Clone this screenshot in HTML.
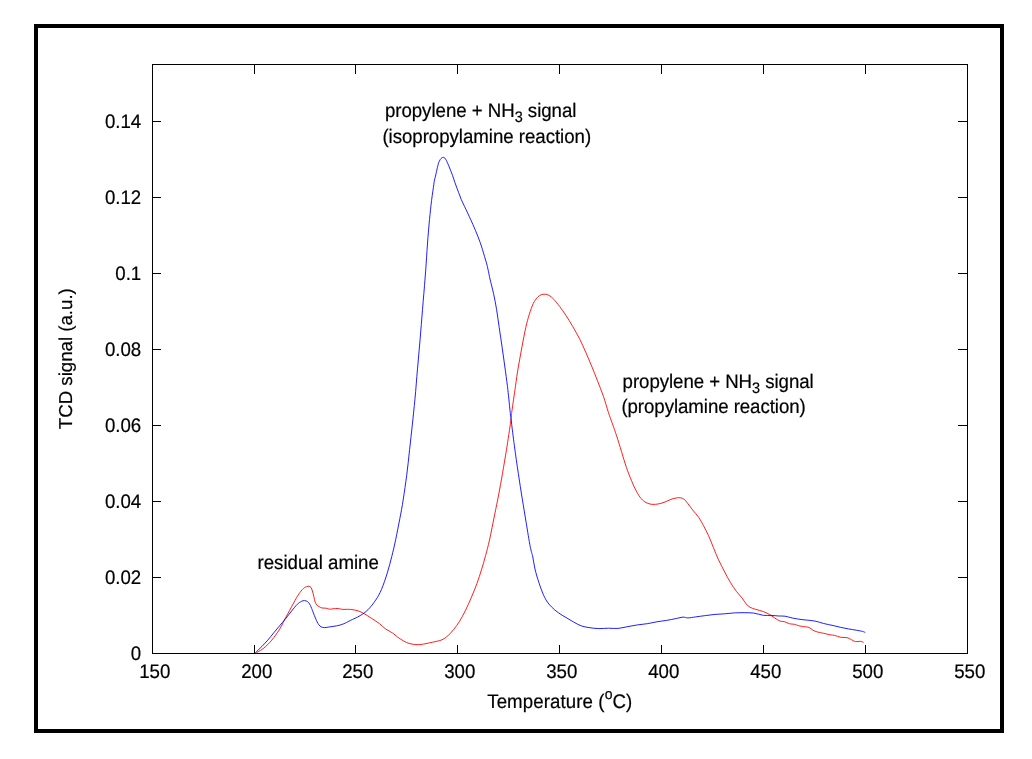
<!DOCTYPE html>
<html lang="en">
<head>
<meta charset="utf-8">
<title>TCD signal vs Temperature</title>
<style>
html,body{margin:0;padding:0;background:#fff;}
body{width:1032px;height:759px;overflow:hidden;position:relative;}
svg{position:absolute;left:0;top:0;display:block;}
text{font-family:"Liberation Sans",sans-serif;font-size:18.67px;fill:#000;stroke:#000;stroke-width:0.2px;text-rendering:geometricPrecision;}
.s{font-size:14.5px;}.p{font-size:14px;}
</style>
</head>
<body>
<svg width="1032" height="759" viewBox="0 0 1032 759">
<rect x="0" y="0" width="1032" height="759" fill="#fff"/>
<rect x="36" y="26" width="966" height="705" fill="none" stroke="#000" stroke-width="4"/>
<rect x="152.5" y="64.5" width="815.0" height="589.0" fill="none" stroke="#000" stroke-width="1" shape-rendering="crispEdges"/>
<g fill="#000" shape-rendering="crispEdges"><rect x="254" y="645" width="1" height="8"/><rect x="254" y="65" width="1" height="9"/><rect x="355" y="645" width="1" height="8"/><rect x="355" y="65" width="1" height="9"/><rect x="457" y="645" width="1" height="8"/><rect x="457" y="65" width="1" height="9"/><rect x="559" y="645" width="1" height="8"/><rect x="559" y="65" width="1" height="9"/><rect x="661" y="645" width="1" height="8"/><rect x="661" y="65" width="1" height="9"/><rect x="763" y="645" width="1" height="8"/><rect x="763" y="65" width="1" height="9"/><rect x="865" y="645" width="1" height="8"/><rect x="865" y="65" width="1" height="9"/><rect x="153" y="577" width="8" height="1"/><rect x="958" y="577" width="9" height="1"/><rect x="153" y="501" width="8" height="1"/><rect x="958" y="501" width="9" height="1"/><rect x="153" y="425" width="8" height="1"/><rect x="958" y="425" width="9" height="1"/><rect x="153" y="349" width="8" height="1"/><rect x="958" y="349" width="9" height="1"/><rect x="153" y="273" width="8" height="1"/><rect x="958" y="273" width="9" height="1"/><rect x="153" y="197" width="8" height="1"/><rect x="958" y="197" width="9" height="1"/><rect x="153" y="121" width="8" height="1"/><rect x="958" y="121" width="9" height="1"/></g>
<path d="M256.2 653.0C257.1 652.4 260.3 650.6 261.9 649.5C263.5 648.4 264.5 647.6 265.8 646.4C267.1 645.2 268.5 643.8 269.8 642.4C271.1 641.0 272.4 639.4 273.7 637.7C275.0 636.0 276.4 634.2 277.7 632.2C279.0 630.2 280.4 628.0 281.6 625.8C282.8 623.6 283.8 621.0 284.9 619.0C285.9 617.0 286.8 615.6 287.9 613.6C289.0 611.6 290.3 609.0 291.5 606.8C292.7 604.6 293.8 602.6 295.0 600.5C296.2 598.4 297.3 596.2 298.7 594.2C300.1 592.2 302.1 589.7 303.5 588.4C304.9 587.1 306.0 587.0 306.9 586.6C307.8 586.2 308.3 586.1 309.0 586.2C309.7 586.4 310.4 586.7 311.0 587.5C311.6 588.3 311.9 589.5 312.4 591.0C312.9 592.5 313.4 594.6 313.8 596.4C314.2 598.2 314.6 600.5 315.1 601.9C315.6 603.3 316.1 604.2 316.8 605.0C317.5 605.8 318.3 606.2 319.2 606.7C320.1 607.2 320.9 607.8 322.0 608.0C323.1 608.2 324.9 608.0 326.1 608.2C327.4 608.4 328.4 609.1 329.5 609.2C330.6 609.3 331.5 608.9 332.9 608.8C334.3 608.7 336.7 608.4 338.1 608.5C339.5 608.6 340.1 609.1 341.2 609.2C342.3 609.4 343.4 609.4 345.0 609.4C346.6 609.4 348.3 609.1 350.5 609.4C352.7 609.6 355.9 610.2 358.2 610.9C360.4 611.6 361.7 612.3 364.0 613.6C366.3 614.9 369.2 616.8 371.8 618.5C374.4 620.2 377.2 621.9 379.5 623.7C381.8 625.5 383.6 627.6 385.8 629.1C388.0 630.6 390.7 631.7 392.6 633.0C394.5 634.3 395.6 635.6 397.4 636.9C399.2 638.2 401.2 639.7 403.3 640.8C405.4 641.9 407.4 643.1 410.0 643.7C412.6 644.4 415.7 644.8 418.8 644.7C421.9 644.6 425.5 643.7 428.4 643.1C431.3 642.5 433.9 642.0 436.2 641.4C438.5 640.8 440.1 640.7 442.0 639.8C443.9 638.9 445.9 637.6 447.8 635.9C449.7 634.2 451.7 631.9 453.6 629.5C455.6 627.1 457.6 624.5 459.5 621.4C461.4 618.3 463.4 614.6 465.3 610.7C467.2 606.8 469.2 602.6 471.1 598.1C473.0 593.6 475.1 588.4 476.9 583.6C478.7 578.8 480.2 573.8 481.7 569.1C483.1 564.4 484.3 560.4 485.6 555.5C486.9 550.6 488.0 546.8 489.5 540.0C491.0 533.2 493.1 522.4 494.6 514.9C496.1 507.4 497.3 502.0 498.6 495.1C499.9 488.2 501.2 481.0 502.5 473.4C503.8 465.8 505.1 458.3 506.5 449.6C507.9 440.9 509.9 427.5 510.8 421.0C511.7 414.5 511.2 416.1 512.0 410.4C512.8 404.7 514.4 393.9 515.4 386.7C516.4 379.5 517.2 373.6 518.3 367.0C519.4 360.4 520.6 353.8 521.9 347.2C523.1 340.6 524.6 332.8 525.8 327.4C527.0 322.0 528.0 318.6 529.2 314.6C530.4 310.7 531.9 306.5 533.2 303.7C534.5 300.9 535.8 299.3 537.1 297.8C538.4 296.3 539.8 295.4 541.1 294.8C542.4 294.2 543.7 294.1 545.0 294.2C546.3 294.3 547.5 294.5 549.0 295.4C550.5 296.3 552.1 297.5 553.9 299.4C555.7 301.3 557.8 304.1 559.8 306.7C561.8 309.3 563.6 311.9 565.8 315.2C567.9 318.5 570.4 322.4 572.7 326.4C575.0 330.4 577.6 335.0 579.8 339.3C582.0 343.6 583.7 347.7 585.7 352.1C587.7 356.6 589.6 361.2 591.6 366.0C593.6 370.8 595.5 375.7 597.5 380.8C599.5 385.9 601.7 391.3 603.5 396.6C605.3 401.9 606.9 407.8 608.4 412.4C609.9 417.0 611.1 420.1 612.5 424.0C613.9 427.9 615.1 431.2 616.6 435.8C618.1 440.4 619.9 446.3 621.5 451.6C623.1 456.9 624.8 462.6 626.4 467.4C628.0 472.2 629.8 476.4 631.4 480.3C633.0 484.2 634.6 488.0 636.3 491.1C637.9 494.2 639.6 496.8 641.3 498.7C642.9 500.6 644.4 501.7 646.2 502.6C648.0 503.6 650.0 504.2 652.1 504.4C654.2 504.6 657.0 504.2 659.1 503.8C661.2 503.4 663.0 502.7 665.0 502.0C667.0 501.3 668.9 500.1 670.9 499.4C672.9 498.7 675.1 498.1 676.8 497.9C678.4 497.6 679.5 497.6 680.8 497.9C682.0 498.1 683.1 498.5 684.3 499.4C685.4 500.3 686.3 501.6 687.7 503.4C689.1 505.1 690.8 507.6 692.6 509.9C694.4 512.2 696.8 514.6 698.6 517.2C700.4 519.8 701.9 522.6 703.5 525.7C705.1 528.8 706.9 532.0 708.5 535.6C710.1 539.2 711.8 543.5 713.4 547.5C715.0 551.5 716.4 555.2 718.3 559.3C720.2 563.4 722.7 568.1 724.7 572.0C726.7 575.9 728.5 579.4 730.5 582.6C732.5 585.8 734.4 588.8 736.4 591.4C738.4 594.0 740.6 596.0 742.2 598.1C743.8 600.2 744.9 602.5 746.2 604.0C747.5 605.5 748.6 606.4 750.1 607.3C751.6 608.2 753.3 608.6 755.5 609.3C757.7 610.0 761.0 610.7 763.3 611.6C765.6 612.5 767.6 613.4 769.5 614.5C771.4 615.6 773.1 617.0 774.9 618.1C776.7 619.2 778.8 620.6 780.3 621.2C781.8 621.8 782.7 621.2 784.2 621.6C785.8 622.0 787.9 623.3 789.6 623.8C791.3 624.2 792.8 624.0 794.3 624.3C795.8 624.6 797.3 625.4 798.9 625.8C800.5 626.2 801.9 626.3 803.6 626.6C805.3 626.9 807.5 626.8 809.0 627.4C810.5 628.0 811.5 629.4 812.9 630.2C814.3 631.0 815.7 631.5 817.5 632.0C819.3 632.5 821.6 632.8 823.7 633.3C825.8 633.8 828.1 634.4 829.9 634.8C831.7 635.1 832.8 635.0 834.6 635.4C836.4 635.8 838.7 636.9 840.8 637.3C842.9 637.7 845.2 637.2 847.0 637.6C848.8 638.0 850.2 639.1 851.6 639.8C853.0 640.5 854.1 641.4 855.5 641.6C856.9 641.9 858.9 641.2 860.2 641.3C861.6 641.4 863.0 642.2 863.6 642.4" fill="none" stroke="#f00" stroke-width="0.88" stroke-linejoin="round"/>
<path d="M255.2 653.0C256.3 651.9 259.8 648.5 261.9 646.4C264.0 644.2 265.8 642.4 267.8 640.1C269.8 637.9 271.7 635.3 273.7 632.9C275.7 630.5 277.7 628.1 279.6 625.8C281.5 623.5 283.3 621.5 285.3 619.0C287.3 616.5 289.7 613.4 291.7 610.9C293.7 608.4 295.7 605.9 297.3 604.3C298.9 602.7 300.2 602.0 301.4 601.4C302.6 600.8 303.5 600.5 304.5 600.6C305.5 600.7 306.6 600.9 307.6 601.7C308.6 602.5 309.4 603.5 310.3 605.3C311.2 607.0 312.2 609.9 313.1 612.2C314.0 614.5 314.9 617.0 315.8 619.0C316.7 621.0 317.7 623.2 318.6 624.5C319.5 625.8 320.3 626.4 321.3 626.9C322.3 627.4 323.3 627.6 324.7 627.6C326.1 627.6 327.6 627.2 329.5 626.9C331.4 626.6 334.4 626.3 336.4 625.9C338.3 625.5 339.7 625.2 341.2 624.7C342.7 624.2 343.9 623.7 345.5 623.0C347.1 622.3 348.1 621.6 350.5 620.4C352.9 619.2 357.3 617.4 360.2 615.6C363.1 613.8 365.3 612.4 367.9 609.8C370.5 607.2 373.4 603.5 375.7 600.1C378.0 596.7 379.6 593.9 381.5 589.4C383.4 584.9 385.6 578.4 387.3 572.9C389.0 567.4 390.4 562.0 391.8 556.4C393.2 550.8 394.4 545.8 395.7 539.5C397.0 533.2 398.5 525.5 399.8 518.8C401.1 512.1 402.2 506.4 403.3 499.1C404.4 491.9 405.6 483.6 406.7 475.3C407.8 467.1 408.7 458.0 409.6 449.6C410.5 441.2 411.4 433.5 412.3 425.0C413.2 416.5 414.1 408.0 415.0 398.6C415.9 389.2 416.6 378.8 417.5 368.9C418.4 359.0 419.3 349.2 420.1 339.3C420.9 329.4 421.7 319.8 422.5 309.6C423.3 299.4 424.4 287.8 425.1 278.0C425.9 268.2 426.4 259.5 427.0 250.7C427.6 241.9 428.3 232.6 429.0 225.0C429.7 217.4 430.3 211.5 431.0 205.2C431.7 198.9 432.8 191.6 433.4 187.4C434.0 183.2 434.1 181.9 434.5 180.0C434.9 178.1 435.2 177.5 435.5 176.1C435.8 174.7 436.2 172.9 436.5 171.5C436.8 170.1 437.1 168.8 437.4 167.4C437.8 166.1 438.1 164.5 438.4 163.4C438.7 162.3 439.1 161.8 439.4 161.1C439.7 160.4 440.0 159.8 440.4 159.3C440.8 158.8 441.3 158.2 441.8 157.9C442.3 157.6 442.8 157.3 443.3 157.3C443.8 157.3 444.3 157.5 444.8 158.1C445.3 158.7 445.9 159.5 446.5 160.7C447.1 161.9 447.8 163.6 448.5 165.2C449.2 166.8 449.8 168.5 450.5 170.2C451.2 171.9 451.9 173.7 452.5 175.3C453.1 176.9 453.5 178.4 454.1 180.0C454.6 181.6 455.0 182.9 455.8 185.0C456.6 187.1 457.7 190.1 458.6 192.5C459.5 194.9 460.3 197.3 461.3 199.6C462.3 201.9 463.4 204.2 464.5 206.4C465.6 208.7 466.7 211.0 467.7 213.1C468.7 215.2 469.6 217.3 470.5 219.2C471.4 221.1 472.2 222.8 473.0 224.7C473.8 226.5 474.6 228.4 475.4 230.3C476.2 232.2 477.0 234.2 477.8 236.2C478.6 238.2 479.4 240.3 480.2 242.5C481.0 244.7 481.8 247.3 482.5 249.6C483.2 251.9 483.8 254.1 484.5 256.4C485.2 258.6 485.9 260.9 486.5 263.1C487.1 265.3 487.5 267.2 488.1 269.8C488.7 272.4 489.1 275.0 490.0 279.0C490.9 283.0 492.5 288.7 493.6 293.8C494.7 298.9 495.7 304.0 496.6 309.6C497.5 315.2 498.3 321.1 499.2 327.4C500.1 333.7 501.2 340.6 502.1 347.2C503.1 353.8 504.0 360.4 504.9 367.0C505.8 373.6 506.6 379.5 507.5 386.7C508.4 393.9 509.4 404.5 510.0 410.4C510.6 416.3 510.7 416.1 511.4 422.0C512.1 427.9 513.2 437.1 514.4 445.7C515.5 454.3 517.0 464.5 518.3 473.4C519.6 482.3 521.0 490.9 522.3 499.1C523.6 507.3 524.9 514.9 526.2 522.8C527.5 530.7 529.1 540.8 530.2 546.5C531.3 552.2 532.0 553.2 532.8 557.0C533.6 560.8 534.0 564.8 535.0 569.1C536.0 573.4 537.6 578.6 538.9 582.6C540.2 586.6 541.5 590.2 542.8 593.3C544.1 596.4 545.2 598.7 546.7 601.0C548.2 603.3 549.6 604.9 551.5 606.9C553.4 608.9 555.9 610.9 558.3 612.7C560.7 614.5 563.5 616.0 566.0 617.5C568.5 619.0 571.1 620.6 573.6 622.0C576.1 623.4 578.7 625.0 581.3 625.9C583.9 626.8 586.2 627.1 589.1 627.6C592.0 628.1 595.6 628.5 598.8 628.6C602.0 628.7 605.2 628.2 608.4 628.2C611.6 628.2 614.9 628.7 618.1 628.4C621.3 628.1 624.6 627.2 627.8 626.6C631.0 626.0 634.3 625.4 637.5 624.9C640.7 624.4 644.0 624.2 647.2 623.7C650.4 623.2 653.7 622.3 656.9 621.8C660.1 621.2 663.4 620.9 666.6 620.4C669.8 619.9 673.5 619.0 676.3 618.5C679.0 618.0 681.2 617.2 683.1 617.1C685.0 617.0 685.8 617.9 687.9 617.9C690.0 617.9 692.8 617.3 695.7 616.9C698.6 616.5 702.1 616.0 705.3 615.6C708.5 615.2 711.8 614.7 715.0 614.4C718.2 614.1 721.5 614.0 724.7 613.8C727.9 613.5 731.2 613.1 734.4 612.9C737.6 612.7 740.9 612.7 744.1 612.7C747.3 612.7 750.6 612.7 753.8 613.1C757.0 613.5 760.4 614.9 763.3 615.3C766.2 615.7 768.4 615.3 771.0 615.4C773.6 615.5 776.5 615.9 778.8 616.0C781.1 616.1 782.7 615.9 785.0 616.2C787.3 616.6 789.9 617.5 792.7 618.1C795.5 618.7 799.1 619.2 802.0 619.6C804.9 620.0 807.5 620.1 809.8 620.4C812.1 620.7 813.7 620.8 816.0 621.3C818.3 621.8 820.9 622.8 823.7 623.5C826.5 624.2 830.1 624.9 833.0 625.5C835.9 626.1 838.2 626.8 840.8 627.4C843.4 628.0 845.9 628.4 848.5 628.9C851.1 629.4 854.0 629.8 856.3 630.2C858.6 630.6 861.0 631.0 862.5 631.4C864.0 631.8 864.8 632.3 865.3 632.5" fill="none" stroke="#00f" stroke-width="0.88" stroke-linejoin="round"/>
<g>
<text transform="translate(154.80 678.00) scale(1 1.05)" text-anchor="middle">150</text>
<text transform="translate(256.80 678.00) scale(1 1.05)" text-anchor="middle">200</text>
<text transform="translate(357.80 678.00) scale(1 1.05)" text-anchor="middle">250</text>
<text transform="translate(459.80 678.00) scale(1 1.05)" text-anchor="middle">300</text>
<text transform="translate(561.80 678.00) scale(1 1.05)" text-anchor="middle">350</text>
<text transform="translate(663.80 678.00) scale(1 1.05)" text-anchor="middle">400</text>
<text transform="translate(765.80 678.00) scale(1 1.05)" text-anchor="middle">450</text>
<text transform="translate(867.80 678.00) scale(1 1.05)" text-anchor="middle">500</text>
<text transform="translate(969.80 678.00) scale(1 1.05)" text-anchor="middle">550</text>
</g>
<g>
<text transform="translate(141.20 660.00) scale(1 1.05)" text-anchor="end">0</text>
<text transform="translate(141.20 584.00) scale(1 1.05)" text-anchor="end">0.02</text>
<text transform="translate(141.20 508.00) scale(1 1.05)" text-anchor="end">0.04</text>
<text transform="translate(141.20 432.00) scale(1 1.05)" text-anchor="end">0.06</text>
<text transform="translate(141.20 356.00) scale(1 1.05)" text-anchor="end">0.08</text>
<text transform="translate(141.20 280.00) scale(1 1.05)" text-anchor="end">0.1</text>
<text transform="translate(141.20 204.00) scale(1 1.05)" text-anchor="end">0.12</text>
<text transform="translate(141.20 128.00) scale(1 1.05)" text-anchor="end">0.14</text>
</g>
<text transform="translate(487.20 708.00) scale(1 1.05)" letter-spacing="0.1">Temperature (<tspan class="p" dy="-8.6">o</tspan><tspan dy="8.6">C)</tspan></text>
<text transform="translate(71.60 429.20) rotate(-90) scale(1 1.0)">TCD signal (a.u.)</text>
<text transform="translate(384.90 117.00) scale(1 1.05)" letter-spacing="-0.03">propylene + NH<tspan class="s" dy="4.9">3</tspan><tspan dy="-4.9"> signal</tspan></text>
<text transform="translate(382.40 143.00) scale(1 1.05)" letter-spacing="-0.03">(isopropylamine reaction)</text>
<text transform="translate(622.60 388.00) scale(1 1.05)" letter-spacing="-0.05">propylene + NH<tspan class="s" dy="4.9">3</tspan><tspan dy="-4.9"> signal</tspan></text>
<text transform="translate(621.40 413.00) scale(1 1.05)" letter-spacing="-0.06">(propylamine reaction)</text>
<text transform="translate(257.50 569.00) scale(1 1.05)">residual amine</text>
</svg>
</body>
</html>
